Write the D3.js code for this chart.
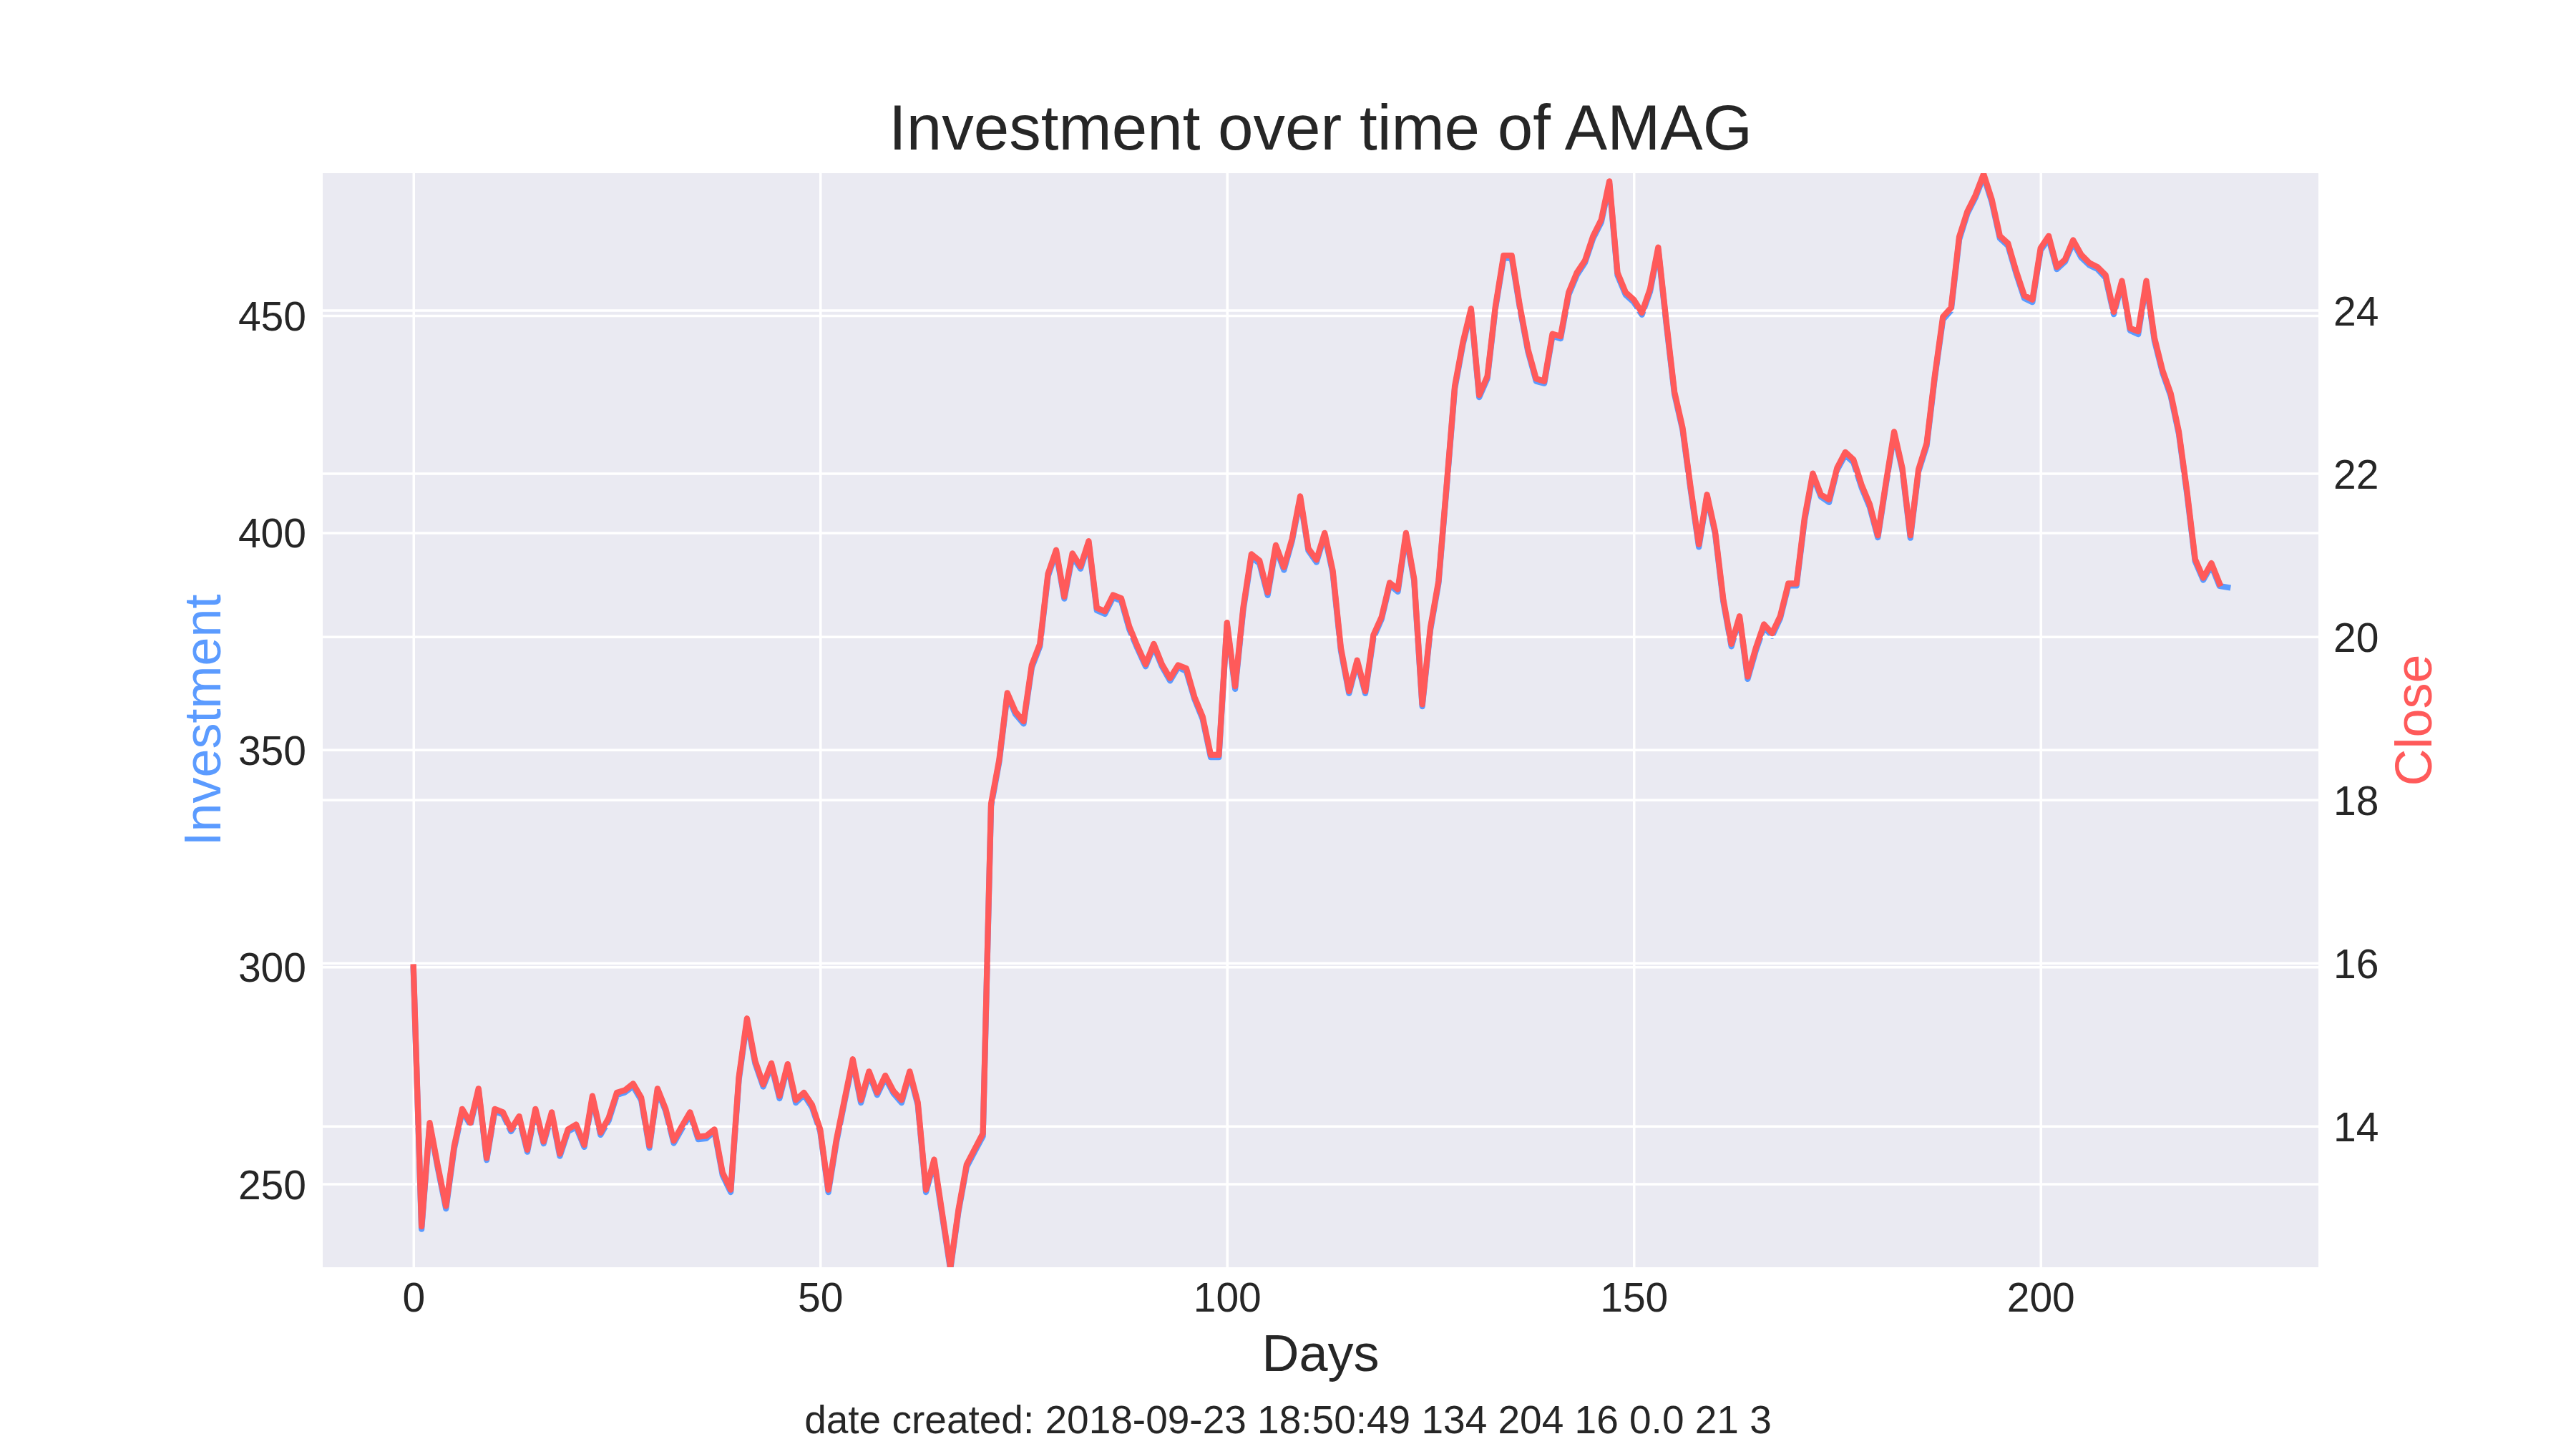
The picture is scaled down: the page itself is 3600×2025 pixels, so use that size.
<!DOCTYPE html>
<html>
<head>
<meta charset="utf-8">
<script src="https://cdn.jsdelivr.net/npm/d3@7"></script>
<style>
  body { margin: 0; background: #fff; }
  text { font-family: "Liberation Sans", Arial, sans-serif; fill: #262626; }
</style>
</head>
<body>
<svg id="chart" width="3600" height="2025"></svg>
<script>
// Investment value per day (left axis)
const investment = [
  299.5, 239.6, 263.5, 253.6, 244.3, 258.0, 266.8, 263.6, 271.5, 255.5,
  266.8, 266.0, 262.1, 265.0, 257.4, 266.8, 259.3, 265.9, 256.4, 262.1,
  263.1, 258.5, 269.7, 261.3, 264.6, 270.5, 271.1, 272.5, 269.3, 258.3,
  271.5, 266.8, 259.4, 262.7, 266.0, 260.3, 260.5, 262.1, 252.0, 248.1,
  274.0, 287.5, 277.8, 272.4, 277.2, 269.7, 277.1, 268.7, 270.5, 267.6,
  262.1, 248.1, 259.7, 269.0, 278.1, 268.7, 275.3, 270.5, 274.4, 270.9,
  268.7, 275.3, 268.2, 248.1, 255.0, 242.6, 230.3, 243.7, 253.9, 257.5,
  261.0, 337.0, 347.2, 362.6, 358.2, 356.0, 368.9, 373.8, 390.0, 395.5,
  384.8, 394.6, 391.7, 397.5, 382.1, 381.3, 385.1, 384.3, 377.7, 373.3,
  369.2, 373.8, 369.2, 365.9, 369.0, 368.1, 361.7, 357.1, 348.3, 348.3,
  378.7, 364.0, 382.2, 394.4, 392.9, 385.6, 396.5, 391.4, 398.1, 407.8,
  395.9, 393.2, 399.4, 390.7, 372.8, 363.0, 370.1, 363.0, 375.8, 380.1,
  388.0, 386.4, 399.3, 388.9, 360.0, 377.6, 388.3, 410.5, 433.2, 443.4,
  451.1, 431.2, 435.5, 451.7, 463.3, 463.2, 451.7, 441.7, 434.9, 434.4,
  445.3, 444.7, 454.8, 459.3, 462.2, 467.8, 471.5, 480.3, 459.3, 454.8,
  453.1, 450.2, 455.5, 465.2, 448.0, 431.9, 423.7, 409.7, 396.7, 408.3,
  399.8, 384.1, 373.8, 380.3, 366.3, 372.8, 378.3, 376.2, 380.3, 387.8,
  387.8, 402.9, 413.1, 408.3, 407.0, 414.5, 417.9, 416.2, 410.4, 405.9,
  398.9, 411.1, 422.7, 414.5, 398.8, 414.1, 420.0, 435.7, 449.1, 451.2,
  467.5, 473.5, 477.2, 482.1, 476.2, 467.8, 466.1, 459.7, 454.0, 453.1,
  465.0, 467.7, 460.7, 462.4, 466.8, 463.4, 461.6, 460.7, 458.7, 450.3,
  457.4, 446.6, 445.7, 457.4, 444.2, 436.8, 431.5, 422.7, 408.9, 393.4,
  389.1, 392.4, 387.7, 387.4
];

// Close price per day (right axis)
const close = [
  15.95, 12.77, 14.04, 13.51, 13.02, 13.75, 14.21, 14.04, 14.46, 13.61,
  14.21, 14.17, 13.96, 14.12, 13.71, 14.21, 13.81, 14.17, 13.66, 13.96,
  14.02, 13.77, 14.37, 13.92, 14.10, 14.41, 14.44, 14.52, 14.35, 13.76,
  14.46, 14.21, 13.82, 14.00, 14.17, 13.87, 13.88, 13.96, 13.43, 13.22,
  14.60, 15.32, 14.80, 14.51, 14.77, 14.37, 14.76, 14.32, 14.41, 14.26,
  13.96, 13.22, 13.84, 14.33, 14.82, 14.32, 14.67, 14.41, 14.62, 14.43,
  14.32, 14.67, 14.29, 13.22, 13.59, 12.93, 12.27, 12.98, 13.53, 13.72,
  13.91, 17.95, 18.49, 19.31, 19.08, 18.96, 19.65, 19.91, 20.77, 21.06,
  20.49, 21.02, 20.86, 21.17, 20.35, 20.31, 20.51, 20.47, 20.12, 19.88,
  19.66, 19.91, 19.66, 19.49, 19.65, 19.61, 19.26, 19.02, 18.55, 18.55,
  20.17, 19.39, 20.36, 21.01, 20.93, 20.54, 21.12, 20.85, 21.20, 21.72,
  21.08, 20.94, 21.27, 20.81, 19.86, 19.33, 19.71, 19.33, 20.02, 20.24,
  20.66, 20.58, 21.27, 20.71, 19.17, 20.11, 20.68, 21.86, 23.07, 23.61,
  24.02, 22.96, 23.19, 24.05, 24.67, 24.67, 24.05, 23.52, 23.16, 23.13,
  23.71, 23.68, 24.22, 24.46, 24.61, 24.91, 25.11, 25.58, 24.46, 24.22,
  24.13, 23.97, 24.26, 24.77, 23.86, 23.00, 22.56, 21.82, 21.13, 21.74,
  21.29, 20.46, 19.91, 20.25, 19.51, 19.86, 20.15, 20.04, 20.25, 20.65,
  20.65, 21.46, 22.00, 21.74, 21.68, 22.07, 22.26, 22.17, 21.86, 21.62,
  21.24, 21.89, 22.51, 22.07, 21.24, 22.05, 22.37, 23.20, 23.92, 24.03,
  24.90, 25.21, 25.41, 25.67, 25.36, 24.91, 24.82, 24.48, 24.18, 24.13,
  24.76, 24.91, 24.53, 24.62, 24.86, 24.68, 24.58, 24.53, 24.43, 23.98,
  24.36, 23.78, 23.74, 24.36, 23.66, 23.26, 22.98, 22.51, 21.78, 20.95,
  20.72, 20.90, 20.65
];

const dayTicks = [0, 50, 100, 150, 200];
const investmentTicks = [250, 300, 350, 400, 450];
const closeTicks = [14, 16, 18, 20, 22, 24];

const dayRange = [-11.15, 234.15];
const investmentRange = [230.8, 482.8];
const closeRange = [12.27, 25.68];

const titleText = "Investment over time of AMAG";
const footText = "date created: 2018-09-23 18:50:49 134 204 16 0.0 21 3";

const blue = "#5b9bff", red = "#ff5a5a";

// SVG setup
const svg = d3.select("#chart"),
      margin = { top: 242, right: 360, bottom: 254, left: 451 },
      width = +svg.attr("width") - margin.left - margin.right,
      height = +svg.attr("height") - margin.top - margin.bottom;

const g = svg.append("g").attr("transform", `translate(${margin.left},${margin.top})`);

const x = d3.scaleLinear().domain(dayRange).range([0, width]);
const yInv = d3.scaleLinear().domain(investmentRange).range([height, 0]);
const yClose = d3.scaleLinear().domain(closeRange).range([height, 0]);

g.append("defs").append("clipPath").attr("id", "plot-clip")
  .append("rect").attr("width", width).attr("height", height);

// background
g.append("rect")
  .attr("width", width)
  .attr("height", height)
  .attr("fill", "#eaeaf2");

function styleGrid(sel) {
  sel.select(".domain").remove();
  sel.selectAll(".tick line").attr("stroke", "#fff").attr("stroke-width", 3.5);
  sel.selectAll(".tick text").remove();
}

// vertical grid + left grid (under blue line)
g.append("g")
  .attr("transform", `translate(0,${height})`)
  .call(d3.axisBottom(x).tickValues(dayTicks).tickSize(-height))
  .call(styleGrid);

g.append("g")
  .call(d3.axisLeft(yInv).tickValues(investmentTicks).tickSize(-width))
  .call(styleGrid);

const lineInv = d3.line().x((d, i) => x(i)).y(d => yInv(d));
const lineClose = d3.line().x((d, i) => x(i)).y(d => yClose(d));

g.append("path")
  .datum(investment)
  .attr("clip-path", "url(#plot-clip)")
  .attr("fill", "none")
  .attr("stroke", blue)
  .attr("stroke-width", 8.3)
  .attr("stroke-linejoin", "round")
  .attr("stroke-linecap", "square")
  .attr("d", lineInv);

// right grid (twin axis, drawn above the blue line)
g.append("g")
  .attr("transform", `translate(${width},0)`)
  .call(d3.axisRight(yClose).tickValues(closeTicks).tickSize(-width))
  .call(styleGrid);

g.append("path")
  .datum(close)
  .attr("clip-path", "url(#plot-clip)")
  .attr("fill", "none")
  .attr("stroke", red)
  .attr("stroke-width", 8.3)
  .attr("stroke-linejoin", "round")
  .attr("stroke-linecap", "square")
  .attr("d", lineClose);

// tick labels
function styleLabels(sel) {
  sel.select(".domain").remove();
  sel.selectAll(".tick line").remove();
  sel.attr("font-family", null).attr("font-size", null);
  sel.selectAll(".tick text").attr("font-size", 57).attr("fill", "#262626");
}

g.append("g")
  .attr("transform", `translate(0,${height})`)
  .call(d3.axisBottom(x).tickValues(dayTicks).tickSize(0))
  .call(styleLabels)
  .selectAll(".tick text").attr("y", 62).attr("dy", null);

g.append("g")
  .call(d3.axisLeft(yInv).tickValues(investmentTicks).tickSize(0))
  .call(styleLabels)
  .selectAll(".tick text").attr("x", -23).attr("dy", "0.36em");

g.append("g")
  .attr("transform", `translate(${width},0)`)
  .call(d3.axisRight(yClose).tickValues(closeTicks).tickSize(0))
  .call(styleLabels)
  .selectAll(".tick text").attr("x", 21).attr("dy", "0.36em");

// titles
svg.append("text")
  .attr("x", margin.left + width / 2)
  .attr("y", 209)
  .attr("text-anchor", "middle")
  .attr("font-size", 89)
  .text(titleText);

svg.append("text")
  .attr("x", margin.left + width / 2)
  .attr("y", 1916)
  .attr("text-anchor", "middle")
  .attr("font-size", 72)
  .text("Days");

svg.append("text")
  .attr("transform", `translate(308,${margin.top + height / 2}) rotate(-90)`)
  .attr("text-anchor", "middle")
  .attr("font-size", 72)
  .style("fill", blue)
  .text("Investment");

svg.append("text")
  .attr("transform", `translate(3398,${margin.top + height / 2}) rotate(-90)`)
  .attr("text-anchor", "middle")
  .attr("font-size", 72)
  .style("fill", red)
  .text("Close");

svg.append("text")
  .attr("x", 1800)
  .attr("y", 2003)
  .attr("text-anchor", "middle")
  .attr("font-size", 55)
  .text(footText);
</script>
</body>
</html>
